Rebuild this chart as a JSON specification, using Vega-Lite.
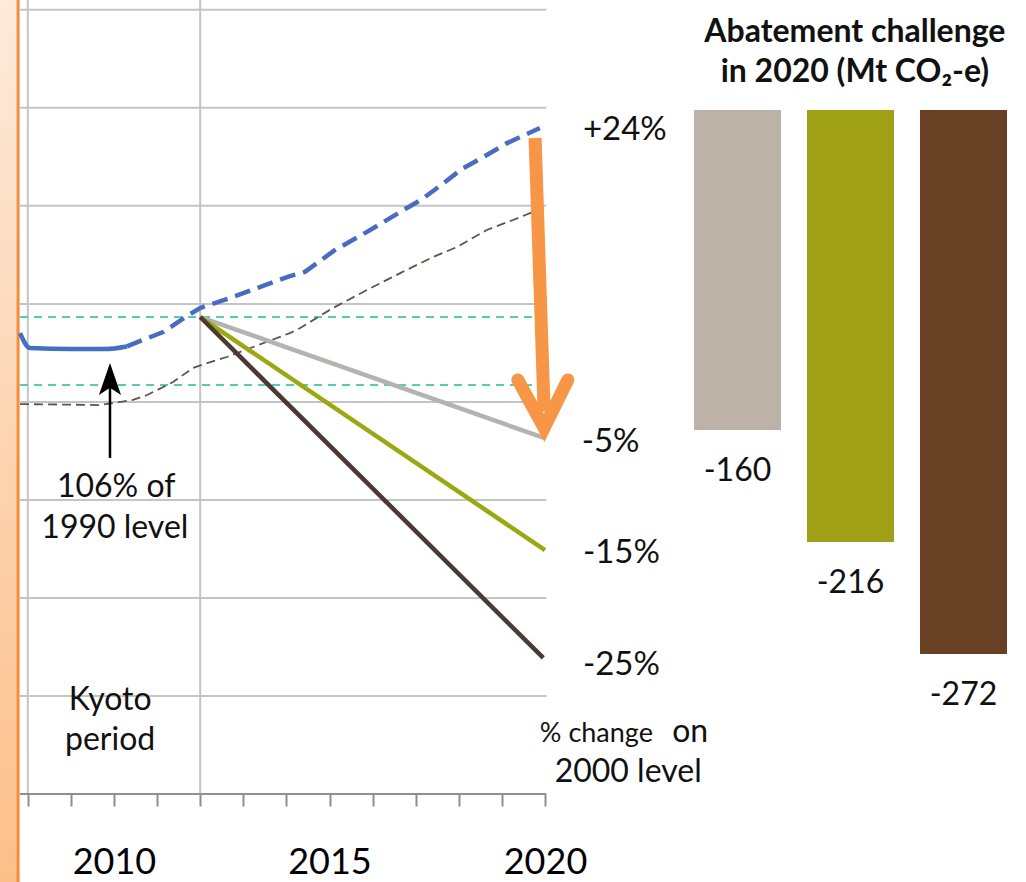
{
  "$schema": "https://vega.github.io/schema/vega-lite/v6.json",
  "width": 1026,
  "height": 794,
  "autosize": {"type": "none"},
  "padding": {"left": 0, "top": 0, "right": 0, "bottom": 88},
  "background": "white",
  "config": {"view": {"stroke": null}, "font": "Lato", "text": {"font": "Lato"}},
  "datasets": {
    "strip": [{"year": 2007.355, "year2": 2007.75, "mt": 305, "mt2": 755}],
    "stripEdge": [{"year": 2007.775, "mt": 305, "mt2": 755}],
    "hgrid": [
      {"mt": 400, "year": 2007.82, "year2": 2020.03},
      {"mt": 450, "year": 2007.82, "year2": 2020.03},
      {"mt": 500, "year": 2007.82, "year2": 2020.03},
      {"mt": 550, "year": 2007.82, "year2": 2020.03},
      {"mt": 600, "year": 2007.82, "year2": 2020.03},
      {"mt": 650, "year": 2007.82, "year2": 2020.03},
      {"mt": 700, "year": 2007.82, "year2": 2020.03},
      {"mt": 750, "year": 2007.82, "year2": 2020.03}
    ],
    "baseline": [{"mt": 350, "year": 2007.82, "year2": 2020.03}],
    "vgrid": [
      {"year": 2008, "mt": 350, "mt2": 755},
      {"year": 2012, "mt": 350, "mt2": 755}
    ],
    "cyan": [
      {"level": "upper", "year": 2007.82, "mt": 593.3},
      {"level": "upper", "year": 2020.0, "mt": 593.3},
      {"level": "lower", "year": 2007.82, "mt": 558.6},
      {"level": "lower", "year": 2020.0, "mt": 558.6}
    ],
    "thin": [
      {"year": 2007.82, "mt": 548.9},
      {"year": 2009.67, "mt": 548.4},
      {"year": 2010.44, "mt": 551},
      {"year": 2010.77, "mt": 553.5},
      {"year": 2011.37, "mt": 560.1},
      {"year": 2011.83, "mt": 567.3},
      {"year": 2012.16, "mt": 569.8},
      {"year": 2012.62, "mt": 572.9},
      {"year": 2014.08, "mt": 585.1},
      {"year": 2014.32, "mt": 587.7},
      {"year": 2015.08, "mt": 597.9},
      {"year": 2015.87, "mt": 607.1},
      {"year": 2016.64, "mt": 615.7},
      {"year": 2017.4, "mt": 623.9},
      {"year": 2017.96, "mt": 629},
      {"year": 2018.65, "mt": 637.7},
      {"year": 2019.26, "mt": 642.8},
      {"year": 2019.72, "mt": 646.9}
    ],
    "targets": [
      {"target": "-5%", "year": 2012.0, "mt": 593.3},
      {"target": "-5%", "year": 2019.98, "mt": 531.6},
      {"target": "-15%", "year": 2012.0, "mt": 593.3},
      {"target": "-15%", "year": 2020.0, "mt": 474.4},
      {"target": "-25%", "year": 2012.0, "mt": 593.3},
      {"target": "-25%", "year": 2019.96, "mt": 419.4}
    ],
    "history": [
      {"year": 2007.82, "mt": 585.1},
      {"year": 2008.05, "mt": 577.5},
      {"year": 2009.0, "mt": 577},
      {"year": 2009.8, "mt": 577},
      {"year": 2010.3, "mt": 578.3}
    ],
    "projection": [
      {"year": 2010.3, "mt": 578.3},
      {"year": 2010.6, "mt": 581},
      {"year": 2011.14, "mt": 585.6},
      {"year": 2011.69, "mt": 593.8},
      {"year": 2012.0, "mt": 597.9},
      {"year": 2012.76, "mt": 603.5},
      {"year": 2014.08, "mt": 614.2},
      {"year": 2014.43, "mt": 616.3},
      {"year": 2015.13, "mt": 627.5},
      {"year": 2015.87, "mt": 636.7},
      {"year": 2016.64, "mt": 646.9},
      {"year": 2017.12, "mt": 653},
      {"year": 2017.59, "mt": 660.6},
      {"year": 2018.07, "mt": 668.8},
      {"year": 2018.61, "mt": 675.4},
      {"year": 2019.12, "mt": 682},
      {"year": 2019.88, "mt": 689.7}
    ],
    "orangeShaft": [
      {"ord": 1, "year": 2019.77, "mt": 684.6},
      {"ord": 2, "year": 2019.98, "mt": 545}
    ],
    "orangeHead": [
      {"ord": 1, "year": 2019.37, "mt": 561.2},
      {"ord": 2, "year": 2019.98, "mt": 536.7},
      {"ord": 3, "year": 2020.53, "mt": 561.2}
    ],
    "kyShaft": [{"year": 2009.907, "mt": 521.4, "mt2": 559}],
    "kyHead": [{"year": 2009.907, "mt": 561.7}],
    "endLabels": [
      {"year": 2020.88, "mt": 683.6, "text": "+24%"},
      {"year": 2020.85, "mt": 524.4, "text": "-5%"},
      {"year": 2020.88, "mt": 467.8, "text": "-15%"},
      {"year": 2020.88, "mt": 410.7, "text": "-25%"}
    ],
    "notes": [
      {"year": 2010.05, "mt": 501.5, "text": "106% of"},
      {"year": 2010.02, "mt": 480.6, "text": "1990 level"},
      {"year": 2009.91, "mt": 392.8, "text": "Kyoto"},
      {"year": 2009.91, "mt": 372.4, "text": "period"},
      {"year": 2021.93, "mt": 356.1, "text": "2000 level"}
    ],
    "changeSmall": [{"year": 2019.88, "mt": 376.5, "text": "% change"}],
    "changeOn": [{"year": 2022.95, "mt": 376.5, "text": "on"}],
    "title": [
      {"year": 2027.19, "mt": 733.6, "text": "Abatement challenge"},
      {"year": 2027.19, "mt": 713.2, "text": "in 2020 (Mt CO₂-e)"}
    ],
    "bars": [
      {"target": "-5%", "value": -160, "label": "-160"},
      {"target": "-15%", "value": -216, "label": "-216"},
      {"target": "-25%", "value": -272, "label": "-272"}
    ]
  },
  "layer": [
    {
      "encoding": {
        "x": {
          "field": "year",
          "type": "quantitative",
          "scale": {"domain": [2007.355, 2031.16], "nice": false, "zero": false},
          "axis": {
            "title": null,
            "values": [2008, 2009, 2010, 2011, 2012, 2013, 2014, 2015, 2016, 2017, 2018, 2019, 2020],
            "format": "d",
            "labelExpr": "(datum.value == 2010 || datum.value == 2015 || datum.value == 2020) ? datum.label : ''",
            "domain": false,
            "grid": false,
            "ticks": true,
            "tickSize": 12,
            "tickWidth": 2,
            "tickColor": "#8f8f8f",
            "labelFont": "Lato",
            "labelFontSize": 36,
            "labelColor": "#000000",
            "labelPadding": 39,
            "labelFlush": false,
            "labelOverlap": false,
            "labelBound": false
          }
        },
        "y": {
          "field": "mt",
          "type": "quantitative",
          "scale": {"domain": [350, 755], "nice": false, "zero": false},
          "axis": null
        }
      },
      "layer": [
        {
          "data": {"name": "strip"},
          "mark": {
            "type": "rect",
            "color": {
              "gradient": "linear",
              "x1": 0, "y1": 0, "x2": 0, "y2": 1,
              "stops": [
                {"offset": 0, "color": "#fdeadb"},
                {"offset": 1, "color": "#fcbf8a"}
              ]
            }
          },
          "encoding": {"x2": {"field": "year2"}, "y2": {"field": "mt2"}}
        },
        {
          "data": {"name": "stripEdge"},
          "mark": {"type": "rule", "color": "#f58d3c", "strokeWidth": 3},
          "encoding": {"y2": {"field": "mt2"}}
        },
        {
          "data": {"name": "hgrid"},
          "mark": {"type": "rule", "color": "#c4c4c4", "strokeWidth": 2},
          "encoding": {"x2": {"field": "year2"}}
        },
        {
          "data": {"name": "vgrid"},
          "mark": {"type": "rule", "color": "#c4c4c4", "strokeWidth": 2},
          "encoding": {"y2": {"field": "mt2"}}
        },
        {
          "data": {"name": "baseline"},
          "mark": {"type": "rule", "color": "#8f8f8f", "strokeWidth": 2},
          "encoding": {"x2": {"field": "year2"}}
        },
        {
          "data": {"name": "cyan"},
          "mark": {"type": "line", "color": "#56cdb0", "strokeWidth": 2, "strokeDash": [8, 6]},
          "encoding": {"detail": {"field": "level", "type": "nominal"}}
        },
        {
          "data": {"name": "thin"},
          "mark": {"type": "line", "color": "#5e554b", "strokeWidth": 1.8, "strokeDash": [9, 5]},
          "encoding": {}
        },
        {
          "data": {"name": "targets"},
          "mark": {"type": "line", "strokeWidth": 4.5, "strokeCap": "butt"},
          "encoding": {
            "color": {
              "field": "target",
              "type": "nominal",
              "scale": {"domain": ["-5%", "-15%", "-25%"], "range": ["#b5b3b1", "#9aa812", "#4a3a30"]},
              "legend": null
            },
            "detail": {"field": "target", "type": "nominal"}
          }
        },
        {
          "data": {"name": "history"},
          "mark": {"type": "line", "color": "#4470c2", "strokeWidth": 4.5, "interpolate": "monotone"},
          "encoding": {}
        },
        {
          "data": {"name": "projection"},
          "mark": {"type": "line", "color": "#4a6cc0", "strokeWidth": 4.5, "strokeDash": [16, 8]},
          "encoding": {}
        },
        {
          "data": {"name": "orangeShaft"},
          "mark": {"type": "line", "color": "#f79646", "strokeWidth": 13, "strokeCap": "butt"},
          "encoding": {"order": {"field": "ord", "type": "quantitative"}}
        },
        {
          "data": {"name": "orangeHead"},
          "mark": {"type": "line", "color": "#f79646", "strokeWidth": 13, "strokeCap": "round", "strokeJoin": "miter"},
          "encoding": {"order": {"field": "ord", "type": "quantitative"}}
        },
        {
          "data": {"name": "kyShaft"},
          "mark": {"type": "rule", "color": "#000000", "strokeWidth": 2.5},
          "encoding": {"y2": {"field": "mt2"}}
        },
        {
          "data": {"name": "kyHead"},
          "mark": {
            "type": "point",
            "filled": true,
            "color": "#000000",
            "opacity": 1,
            "size": 1024,
            "shape": "M0,-1L0.69,1L0,0.55L-0.69,1Z"
          },
          "encoding": {}
        },
        {
          "data": {"name": "endLabels"},
          "mark": {"type": "text", "align": "left", "baseline": "alphabetic", "fontSize": 33, "color": "#111111"},
          "encoding": {"text": {"field": "text", "type": "nominal"}}
        },
        {
          "data": {"name": "notes"},
          "mark": {"type": "text", "align": "center", "baseline": "alphabetic", "fontSize": 32, "color": "#111111"},
          "encoding": {"text": {"field": "text", "type": "nominal"}}
        },
        {
          "data": {"name": "changeSmall"},
          "mark": {"type": "text", "align": "left", "baseline": "alphabetic", "fontSize": 27, "color": "#111111"},
          "encoding": {"text": {"field": "text", "type": "nominal"}}
        },
        {
          "data": {"name": "changeOn"},
          "mark": {"type": "text", "align": "left", "baseline": "alphabetic", "fontSize": 32, "color": "#111111"},
          "encoding": {"text": {"field": "text", "type": "nominal"}}
        },
        {
          "data": {"name": "title"},
          "mark": {"type": "text", "align": "center", "baseline": "alphabetic", "fontSize": 32, "fontWeight": "bold", "color": "#111111"},
          "encoding": {"text": {"field": "text", "type": "nominal"}}
        }
      ]
    },
    {
      "data": {"name": "bars"},
      "encoding": {
        "x": {
          "field": "target",
          "type": "nominal",
          "scale": {"domain": ["-5%", "-15%", "-25%"], "range": [694, 1007], "paddingInner": 0.23, "paddingOuter": 0},
          "axis": null
        },
        "y": {
          "field": "value",
          "type": "quantitative",
          "scale": {"domain": [-342, 55], "nice": false, "zero": false},
          "axis": null
        }
      },
      "layer": [
        {
          "mark": {"type": "bar"},
          "encoding": {
            "y2": {"datum": 0},
            "color": {
              "field": "target",
              "type": "nominal",
              "scale": {"domain": ["-5%", "-15%", "-25%"], "range": ["#bcb2a8", "#a0a016", "#684024"]},
              "legend": null
            }
          }
        },
        {
          "mark": {"type": "text", "align": "center", "baseline": "alphabetic", "dy": 51, "fontSize": 32, "color": "#111111"},
          "encoding": {"text": {"field": "label", "type": "nominal"}}
        }
      ]
    }
  ],
  "resolve": {
    "scale": {"x": "independent", "y": "independent", "color": "independent"},
    "axis": {"x": "independent", "y": "independent"}
  }
}
